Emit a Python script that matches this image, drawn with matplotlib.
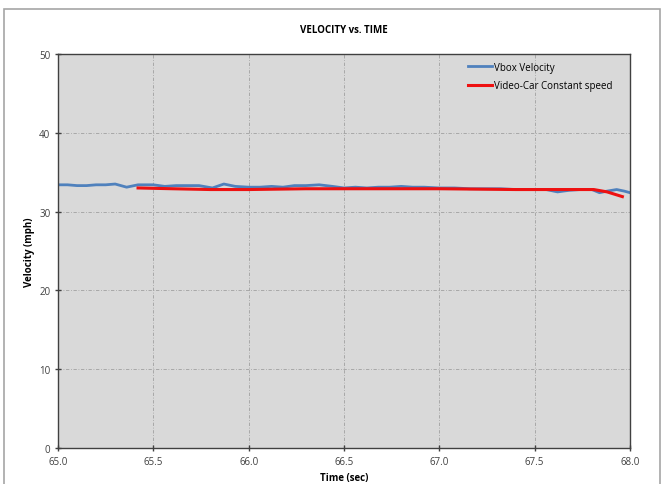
import matplotlib.pyplot as plt
from matplotlib.patches import Rectangle

plt.rcParams['font.family'] = ['Open Sans', 'DejaVu Sans']

# Vbox velocity (mph) vs time (sec)
vbox_t = [65.00, 65.05, 65.10, 65.15, 65.20, 65.25, 65.30, 65.36, 65.42, 65.50,
          65.56, 65.62, 65.68, 65.74, 65.81, 65.87, 65.93, 66.00, 66.06, 66.12,
          66.18, 66.24, 66.30, 66.37, 66.44, 66.50, 66.56, 66.62, 66.68, 66.74,
          66.80, 66.86, 66.92, 67.00, 67.08, 67.16, 67.24, 67.32, 67.40, 67.48,
          67.56, 67.62, 67.68, 67.74, 67.80, 67.84, 67.88, 67.93, 67.97, 68.00]
vbox_v = [33.4, 33.4, 33.3, 33.3, 33.4, 33.4, 33.5, 33.1, 33.4, 33.4,
          33.2, 33.3, 33.3, 33.3, 33.0, 33.5, 33.2, 33.1, 33.1, 33.2,
          33.1, 33.3, 33.3, 33.4, 33.2, 33.0, 33.1, 33.0, 33.1, 33.1,
          33.2, 33.1, 33.1, 33.0, 33.0, 32.9, 32.9, 32.9, 32.8, 32.8,
          32.8, 32.5, 32.7, 32.8, 32.8, 32.4, 32.6, 32.8, 32.6, 32.4]

# Video - car constant speed
video_t = [65.42, 65.60, 65.80, 66.00, 66.30, 66.60, 67.00, 67.40, 67.81, 67.88, 67.96]
video_v = [33.0, 32.9, 32.8, 32.8, 32.9, 32.9, 32.9, 32.8, 32.8, 32.5, 31.9]

x_ticks = [65.0, 65.5, 66.0, 66.5, 67.0, 67.5, 68.0]
y_ticks = [0, 10, 20, 30, 40, 50]

fig = plt.figure(figsize=(6.64, 4.85), dpi=100)
fig.patches.append(Rectangle((0.006, -0.01), 0.988, 0.99, transform=fig.transFigure,
                             fill=False, edgecolor='#a6a6a6', linewidth=1.2))
ax = fig.add_axes([0.0873, 0.0742, 0.8615, 0.8124])
ax.set_facecolor('#d9d9d9')

ax.plot(vbox_t, vbox_v, color='#4f81bd', linewidth=2.0, label='Vbox Velocity')
ax.plot(video_t, video_v, color='#ee1111', linewidth=2.2, label='Video-Car Constant speed')

ax.set_xlim(65.0, 68.0)
ax.set_ylim(0, 50)
ax.set_xticks(x_ticks)
ax.set_xticklabels(['%.1f' % t for t in x_ticks])
ax.set_yticks(y_ticks)
ax.grid(True, color='#a0a0a0', linestyle=(0, (4, 2, 1, 2)), linewidth=0.6)
ax.tick_params(labelsize=7, colors='#404040', direction='inout', length=4, width=1)
for s in ax.spines.values():
    s.set_color('#404040')
    s.set_linewidth(1.0)

ax.set_title('VELOCITY vs. TIME', fontsize=7, fontweight='bold', pad=16)
ax.set_xlabel('Time (sec)', fontsize=7, fontweight='bold', labelpad=4)
ax.set_ylabel('Velocity (mph)', fontsize=7, fontweight='bold', labelpad=3)

ax.legend(loc='upper right', bbox_to_anchor=(0.985, 1.003), frameon=False, fontsize=7,
          handlelength=2.5, handletextpad=0.2, labelspacing=0.8)

fig.savefig('out.png', dpi=100)
